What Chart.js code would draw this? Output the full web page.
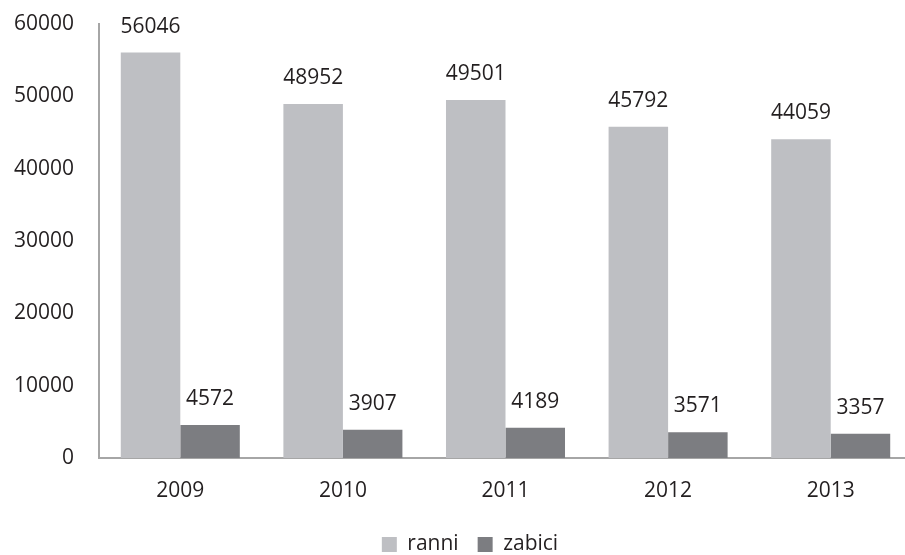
<!DOCTYPE html>
<html>
<head>
<meta charset="utf-8">
<script src="https://cdn.jsdelivr.net/npm/chart.js@4/dist/chart.umd.min.js"></script>
<style>
  html, body { margin: 0; padding: 0; background: #fff; overflow: hidden; }
  #wrap { position: relative; width: 912px; height: 555px; }
</style>
</head>
<body>
<div id="wrap"><canvas id="chart"></canvas></div>
<script>
const years = ['2009', '2010', '2011', '2012', '2013'];
const ranni = [56046, 48952, 49501, 45792, 44059];
const zabici = [4572, 3907, 4189, 3571, 3357];

const FONT = '"Open Sans", "DejaVu Sans", sans-serif';
const TEXT = '#231f20';

// value labels above every bar
const valueLabels = {
    id: 'valueLabels',
    afterDatasetsDraw(chart) {
        const ctx = chart.ctx;
        ctx.save();
        ctx.font = '21px ' + FONT;
        ctx.fillStyle = TEXT;
        ctx.textAlign = 'center';
        ctx.textBaseline = 'middle';
        chart.data.datasets.forEach((ds, i) => {
            chart.getDatasetMeta(i).data.forEach((bar, j) => {
                ctx.fillText(ds.data[j], bar.x, bar.y - 26);
            });
        });
        ctx.restore();
    }
};

// squeeze the legend box and nudge it right a little
const legendTweak = {
    id: 'legendTweak',
    afterInit(chart) {
        const lg = chart.legend;
        const fit = lg.fit;
        lg.fit = function () {
            fit.call(this);
            this.height = 40;
        };
    },
    afterLayout(chart) {
        chart.legend.left += 14;
        chart.legend.right += 14;
    }
};

new Chart(document.getElementById('chart'), {
    type: 'bar',
    data: {
        labels: years,
        datasets: [
            { label: 'ranni', data: ranni, backgroundColor: '#bebfc3' },
            { label: 'zabici', data: zabici, backgroundColor: '#7c7d81' }
        ]
    },
    options: {
        responsive: true,
        maintainAspectRatio: false,
        animation: false,
        layout: { padding: { top: 24, left: 0, right: 0, bottom: 0 } },
        datasets: { bar: { categoryPercentage: 0.732, barPercentage: 1.0 } },
        scales: {
            x: {
                grid: { display: false, drawTicks: false },
                border: { display: true, color: '#a6a6a6', width: 2 },
                ticks: { color: TEXT, font: { family: FONT, size: 21 }, padding: 20 },
                afterFit: s => { s.height = 57; }
            },
            y: {
                min: 0,
                max: 60000,
                grid: { display: false, drawTicks: false },
                border: { display: true, color: '#a6a6a6', width: 2 },
                ticks: {
                    stepSize: 10000,
                    color: TEXT,
                    font: { family: FONT, size: 21 },
                    padding: 25,
                    callback: v => String(v)
                },
                afterFit: s => {
                    s.width = 99;
                    s.paddingTop = 0;
                    s.paddingBottom = 0;
                }
            }
        },
        plugins: {
            tooltip: { enabled: false },
            legend: {
                position: 'bottom',
                labels: {
                    color: TEXT,
                    font: { family: FONT, size: 21 },
                    boxWidth: 15,
                    boxHeight: 15,
                    padding: 19
                }
            }
        }
    },
    plugins: [valueLabels, legendTweak]
});
</script>
</body>
</html>
